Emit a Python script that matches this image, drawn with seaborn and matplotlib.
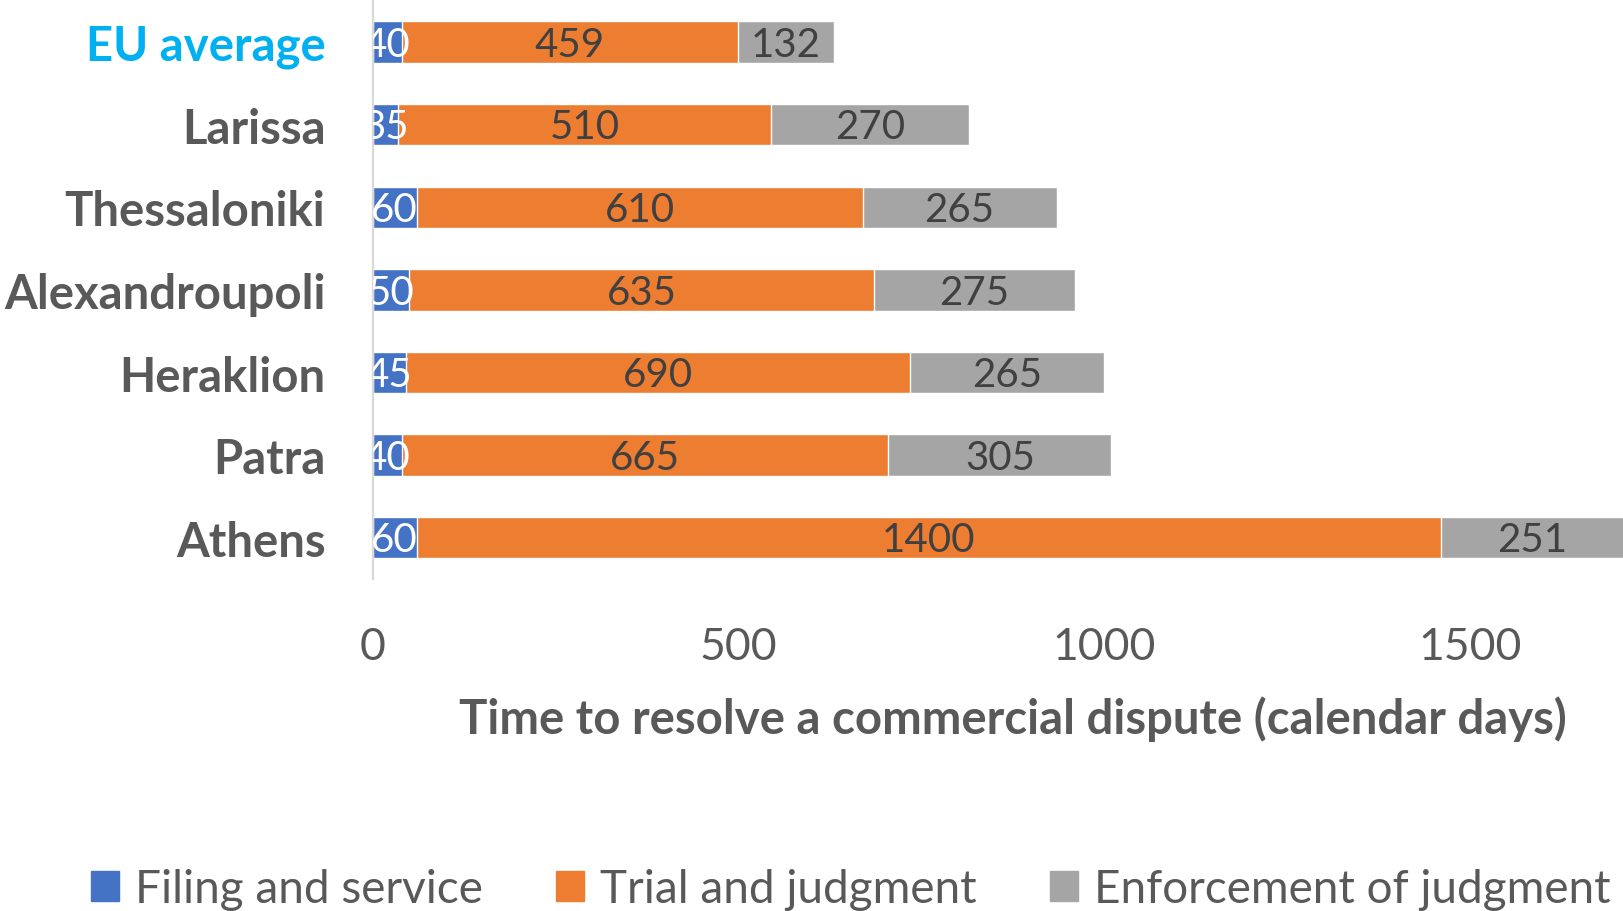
import matplotlib
matplotlib.use("Agg")
import matplotlib.pyplot as plt
import matplotlib.patches as mpatches
import seaborn as sns
import numpy as np

# Datos del gráfico
ciudades = ["EU average", "Larissa", "Thessaloniki", "Alexandroupoli", "Heraklion", "Patra", "Athens"]
filing = [40, 35, 60, 50, 45, 40, 60]
trial = [459, 510, 610, 635, 690, 665, 1400]
enforcement = [132, 270, 265, 275, 265, 305, 251]
series = ["Filing and service", "Trial and judgment", "Enforcement of judgment"]
colores = ["#4472C4", "#ED7D31", "#A5A5A5"]
ticks_x = [0, 500, 1000, 1500]

sns.set_theme(style="white")
plt.rcParams["font.family"] = ["Lato", "DejaVu Sans"]

fig = plt.figure(figsize=(16.23, 9.12), dpi=100)
ax = fig.add_axes([0.2296, 0.364, 0.7887, 0.634])

f = np.array(filing)
t = np.array(trial)
e = np.array(enforcement)
acum1 = f
acum2 = f + t
acum3 = f + t + e

# Barras apiladas: se dibuja el total primero y encima los parciales
for vals, col in zip([acum3, acum2, acum1], colores[::-1]):
    sns.barplot(x=vals, y=ciudades, color=col, saturation=1, width=0.5, ax=ax, orient="h")

# Etiquetas en el centro de cada segmento
for seg, ini, col in [(f, np.zeros_like(f), "white"), (t, acum1, "#404040"), (e, acum2, "#404040")]:
    for i, (v, s) in enumerate(zip(seg, ini)):
        ax.annotate(str(v), (s + v / 2, i), xytext=(0, -1.5), textcoords="offset points",
                    ha="center", va="center", fontsize=29, color=col, annotation_clip=False,
                    clip_on=True)

ax.set_xlim(0, 1750)
ax.set_xticks(ticks_x)
ax.tick_params(axis="x", length=0, pad=34, labelsize=32, labelcolor="#595959")
ax.tick_params(axis="y", length=0, pad=34, labelsize=34, labelcolor="#595959")
for lab in ax.get_yticklabels():
    lab.set_fontweight("bold")
    if lab.get_text() == "EU average":
        lab.set_color("#00B0F0")

for s in ["top", "right", "bottom"]:
    ax.spines[s].set_visible(False)
ax.spines["left"].set_color("#D9D9D9")
ax.spines["left"].set_linewidth(1.6)

ax.set_ylabel("")
ax.set_xlabel("Time to resolve a commercial dispute (calendar days)", fontsize=34,
              fontweight="bold", color="#595959", va="center")
ax.xaxis.set_label_coords(0.5, -0.24)

handles = [mpatches.Patch(color=c, label=s) for c, s in zip(colores, series)]
fig.legend(handles=handles, loc="center", bbox_to_anchor=(0.524, 0.024), ncol=3,
           frameon=False, fontsize=33, handlelength=0.61, handleheight=0.62,
           handletextpad=0.35, columnspacing=1.6, labelcolor="#595959")

fig.savefig("out.png", dpi=100)
